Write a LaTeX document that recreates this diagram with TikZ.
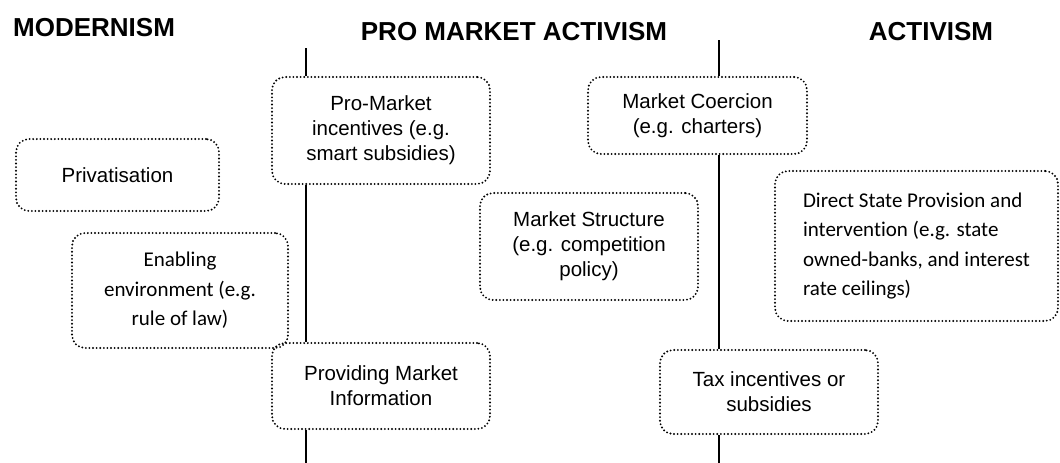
\documentclass[tikz,border=0pt]{standalone}
\usepackage{fontspec}
\setmainfont{Liberation Sans}
\newfontfamily\carlitofont[Ligatures=NoCommon]{Carlito}
\begin{document}
\begin{tikzpicture}[x=1pt,y=-1pt,
  box/.style={draw=black, line width=2.1pt, dash pattern=on 0pt off 3.6pt, line cap=round,
    rounded corners=13pt, inner sep=0pt, align=center, font=\fontsize{20.5}{25}\selectfont},
  cbox/.style={box, font=\carlitofont\fontsize{21}{29.5}\selectfont},
  head/.style={inner sep=0pt, font=\bfseries\fontsize{26}{30}\selectfont},
  axis/.style={draw=black, line width=1.8pt}]
\useasboundingbox (0,0) rectangle (1060,463);
% headers
\node[head, anchor=west] (h1) at (13,28) {MODERNISM};
\node[head] (h2) at (514,32) {PRO MARKET ACTIVISM};
\node[head] (h3) at (931,32) {ACTIVISM};
% boxes
\node[box, minimum width=203pt, minimum height=72pt] (priv) at (117.5,175) {Privatisation};
\node[box, minimum width=218pt, minimum height=107pt] (pm) at (381,130.5) {Pro-Market\\incentives (e.g.\\smart subsidies)};
\node[cbox, minimum width=216pt, minimum height=115pt] (en) at (180,290.5) {Enabling\\environment (e.g.\\rule of law)};
\node[box, minimum width=218pt, minimum height=86pt] (pim) at (381,386) {Providing Market\\Information};
\node[box, minimum width=219pt, minimum height=77pt] (mc) at (697.5,115.5) {Market Coercion\\(e.g. charters)};
\node[box, minimum width=218pt, minimum height=107pt] (ms) at (589,246.5) {Market Structure\\(e.g. competition\\policy)};
\node[cbox, align=left, minimum width=283pt, minimum height=150pt] (ds) at (916.5,246) {Direct State Provision and\\intervention (e.g. state\\owned-banks, and interest\\rate ceilings)};
\node[box, minimum width=218pt, minimum height=84pt] (tax) at (769,392) {Tax incentives or\\subsidies};
% axes
\coordinate (a1) at (306,48);
\coordinate (b1) at (306,463);
\coordinate (a2) at (719,40);
\coordinate (b2) at (719,463);
\draw[axis] (a1) -- (a1 |- pm.north);
\draw[axis] (a1 |- pm.south) -- (a1 |- pim.north);
\draw[axis] (a1 |- pim.south) -- (b1);
\draw[axis] (a2) -- (a2 |- mc.north);
\draw[axis] (a2 |- mc.south) -- (a2 |- tax.north);
\draw[axis] (a2 |- tax.south) -- (b2);
\end{tikzpicture}
\end{document}
